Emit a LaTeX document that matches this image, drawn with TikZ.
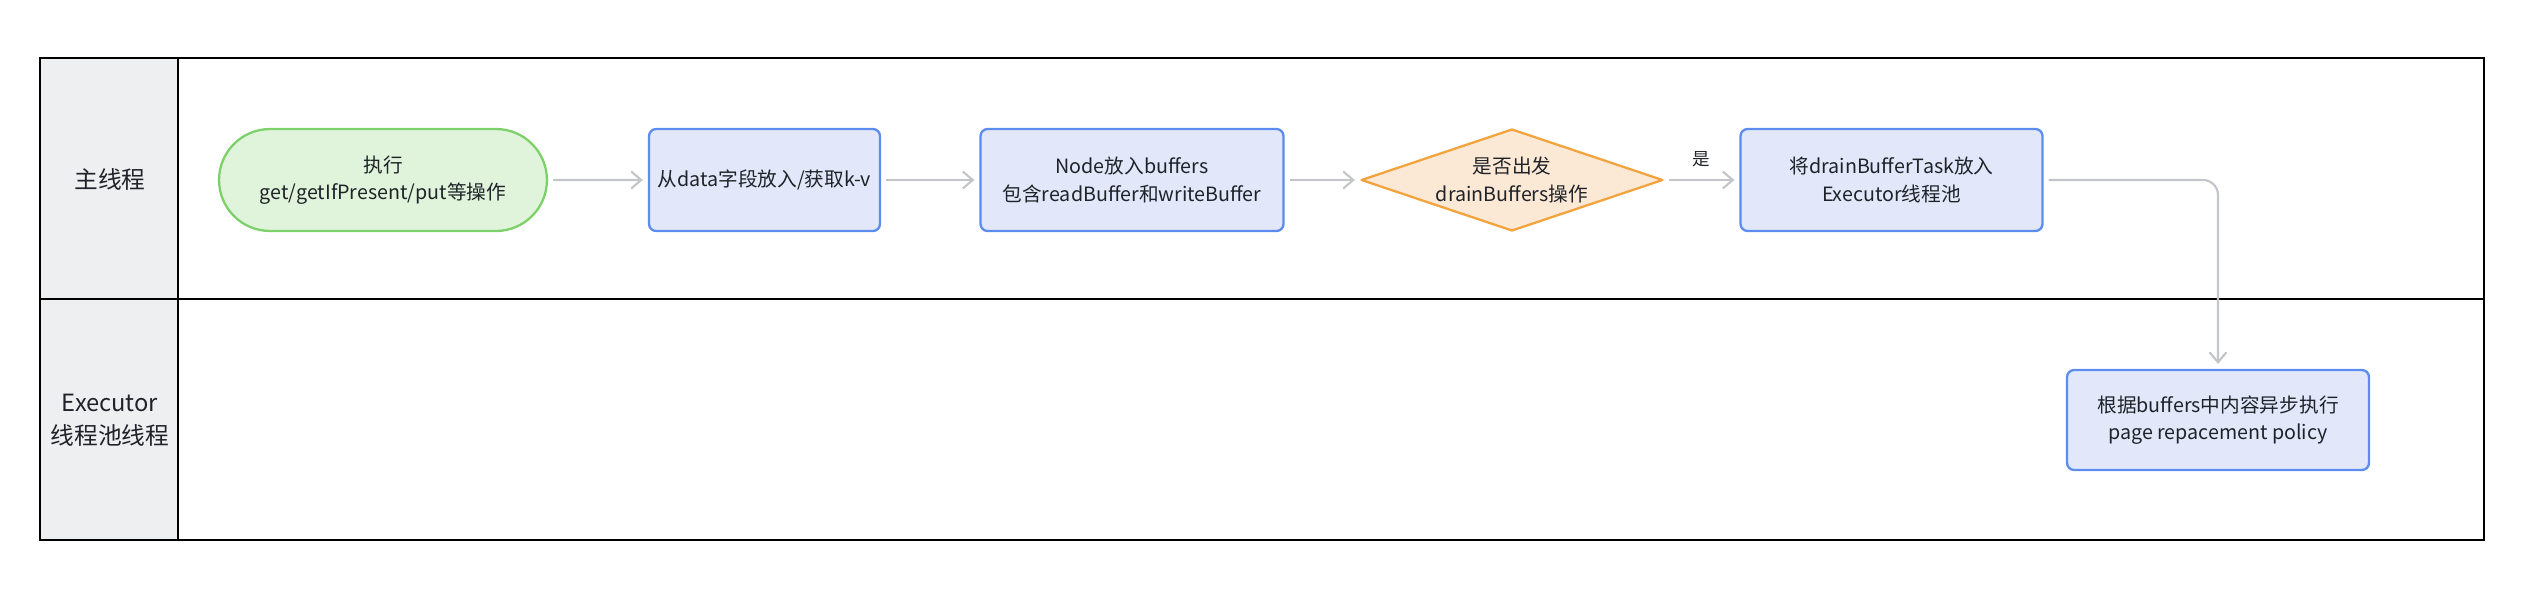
\documentclass[tikz,border=0pt]{standalone}
\usepackage{fontspec}
\setmainfont{Noto Sans CJK SC}
\usepackage{xcolor}
\usetikzlibrary{shapes.geometric,shapes.misc,arrows.meta}

\definecolor{lanegray}{HTML}{EEEFF1}
\definecolor{txtgray}{HTML}{1F2329}
\definecolor{startfill}{HTML}{E0F4DB}
\definecolor{startline}{HTML}{7CD16A}
\definecolor{stepfill}{HTML}{E2E8FA}
\definecolor{stepline}{HTML}{5C8CF0}
\definecolor{askfill}{HTML}{FCE9D5}
\definecolor{askline}{HTML}{F2A33D}
\definecolor{flowgray}{HTML}{C3C5C9}

\begin{document}
\begin{tikzpicture}[x=0.02cm,y=-0.02cm,
  every node/.style={text=txtgray,align=center,inner sep=0pt},
  lanelabel/.style={font=\fontsize{13.5}{18.5}\selectfont},
  startbox/.style={rounded rectangle,draw=startline,fill=startfill,line width=1.3pt,
    minimum width=6.56cm,minimum height=2.04cm,font=\fontsize{11.2}{15.4}\selectfont},
  stepbox/.style={rectangle,rounded corners=4pt,draw=stepline,fill=stepfill,line width=1.3pt,
    minimum height=2.04cm,font=\fontsize{11.2}{15.4}\selectfont},
  askbox/.style={diamond,aspect=2.96,draw=askline,fill=askfill,line width=1.3pt,line join=round,
    minimum width=6.04cm,minimum height=2.04cm,font=\fontsize{11.2}{15.4}\selectfont},
  flow/.style={draw=flowgray,line width=1.2pt,-{Straight Barb[length=0.2cm,width=0.34cm]},
    shorten <=0.1cm,shorten >=0.1cm}]
\useasboundingbox (0,0) rectangle (2532,606);

% swimlanes
\fill [lanegray] (40,58) rectangle (178,540);
\draw [black,line width=1.6pt] (40,58) rectangle (2484,540);
\draw [black,line width=1.6pt] (178,58) -- (178,540);
\draw [black,line width=1.6pt] (40,299) -- (2484,299);
\node [lanelabel] (mainlane) at (110,179) {主线程};
\node [lanelabel] (execlane) at (110,420) {Executor\\线程池线程};

% main thread
\node [startbox] (start) at (383,180) {执行\\get/getIfPresent/put等操作};
\node [stepbox,minimum width=4.62cm] (fetch) at (764.5,180) {从data字段放入/获取k-v};
\node [stepbox,minimum width=6.06cm] (buffer) at (1132,180) {Node放入buffers\\包含readBuffer和writeBuffer};
\node [askbox] (drain) at (1512,180) {是否出发\\drainBuffers操作};
\node [stepbox,minimum width=6.04cm] (submit) at (1891.5,180) {将drainBufferTask放入\\Executor线程池};

% executor thread
\node [stepbox,minimum width=6.04cm,minimum height=2cm] (policy) at (2218,420) {根据buffers中内容异步执行\\page repacement policy};

\draw [flow] (start) -- (fetch);
\draw [flow] (fetch) -- (buffer);
\draw [flow] (buffer) -- (drain);
\draw [flow] (drain) -- node [above=0.24cm,font=\fontsize{10}{12}\selectfont] (yes) {是} (submit);
\draw [flow,rounded corners=0.3cm] (submit) -| (policy);
\end{tikzpicture}
\end{document}
